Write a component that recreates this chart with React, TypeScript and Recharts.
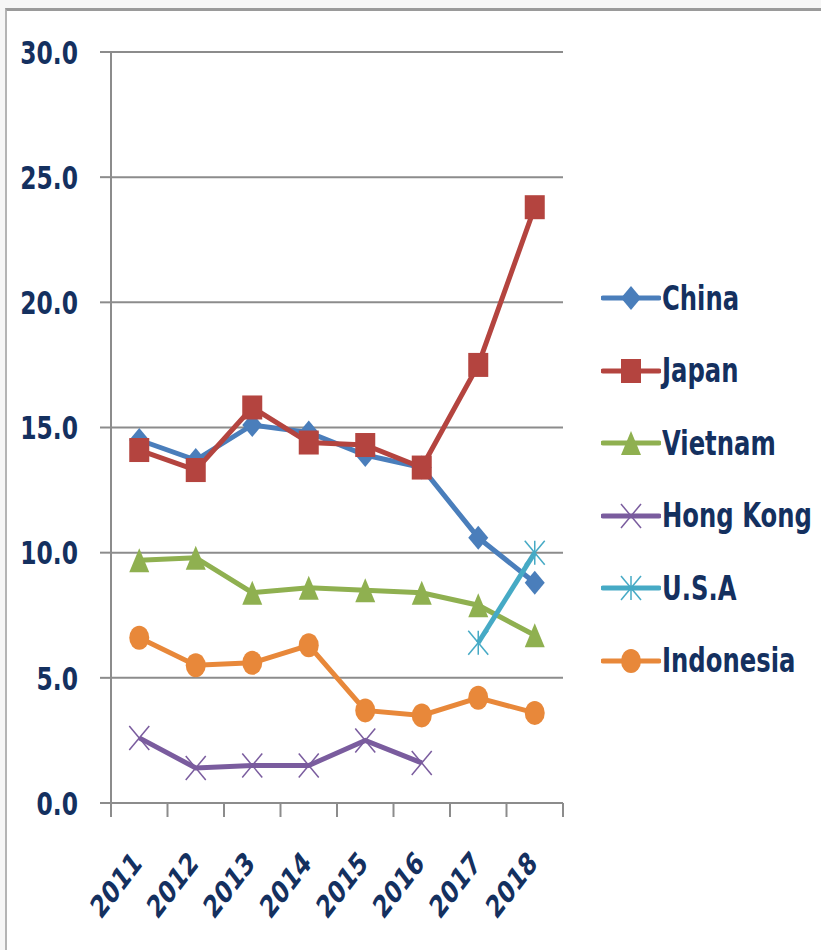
import React from 'react';
import { LineChart, Line, XAxis, YAxis, CartesianGrid, Legend } from 'recharts';

const YEARS = ['2011', '2012', '2013', '2014', '2015', '2016', '2017', '2018'];
const CHINA = [14.5, 13.7, 15.1, 14.8, 13.9, 13.4, 10.6, 8.8];
const JAPAN = [14.1, 13.3, 15.8, 14.4, 14.3, 13.4, 17.5, 23.8];
const VIETNAM = [9.7, 9.8, 8.4, 8.6, 8.5, 8.4, 7.9, 6.7];
const HONG_KONG = [2.6, 1.4, 1.5, 1.5, 2.5, 1.6, null, null];
const USA = [null, null, null, null, null, null, 6.4, 10.0];
const INDONESIA = [6.6, 5.5, 5.6, 6.3, 3.7, 3.5, 4.2, 3.6];
const Y_TICKS = [0, 5, 10, 15, 20, 25, 30];

type Shape = 'diamond' | 'square' | 'triangle' | 'x' | 'star' | 'circle';

const SERIES: { key: string; name: string; values: (number | null)[]; color: string; shape: Shape }[] = [
    { key: 'china', name: 'China', values: CHINA, color: '#4A7EBB', shape: 'diamond' },
    { key: 'japan', name: 'Japan', values: JAPAN, color: '#B4443F', shape: 'square' },
    { key: 'vietnam', name: 'Vietnam', values: VIETNAM, color: '#8FB050', shape: 'triangle' },
    { key: 'hongKong', name: 'Hong Kong', values: HONG_KONG, color: '#7A5C9E', shape: 'x' },
    { key: 'usa', name: 'U.S.A', values: USA, color: '#46AAC5', shape: 'star' },
    { key: 'indonesia', name: 'Indonesia', values: INDONESIA, color: '#E8883A', shape: 'circle' },
];

const data = YEARS.map((year, i) => {
    const row: Record<string, string | number | null> = { year };
    SERIES.forEach((s) => { row[s.key] = s.values[i]; });
    return row;
});

const TEXT_COLOR = '#14305F';
const FONT = '"DejaVu Sans Condensed", "DejaVu Sans", sans-serif';
const HALF_BAND = 28.25;

function Marker({ cx, cy, shape, color }: { cx: number; cy: number; shape: Shape; color: string }) {
    const w = 10;
    const h = 12;
    switch (shape) {
        case 'diamond':
            return <polygon points={`${cx},${cy - h} ${cx + w},${cy} ${cx},${cy + h} ${cx - w},${cy}`} fill={color} />;
        case 'square':
            return <rect x={cx - w} y={cy - h} width={w * 2} height={h * 2} fill={color} />;
        case 'triangle':
            return <polygon points={`${cx},${cy - h} ${cx + w},${cy + h} ${cx - w},${cy + h}`} fill={color} />;
        case 'circle':
            return <ellipse cx={cx} cy={cy} rx={w} ry={h} fill={color} />;
        case 'x':
            return (
                <g stroke={color} strokeWidth={1.5}>
                    <line x1={cx - w} y1={cy - h} x2={cx + w} y2={cy + h} />
                    <line x1={cx - w} y1={cy + h} x2={cx + w} y2={cy - h} />
                </g>
            );
        case 'star':
            return (
                <g stroke={color} strokeWidth={1.5}>
                    <line x1={cx - w} y1={cy - h} x2={cx + w} y2={cy + h} />
                    <line x1={cx - w} y1={cy + h} x2={cx + w} y2={cy - h} />
                    <line x1={cx} y1={cy - h} x2={cx} y2={cy + h} />
                </g>
            );
    }
    return null;
}

function YTick(props: any) {
    const { x, y, payload } = props;
    return (
        <text
            transform={`translate(${x},${y}) scale(1,1.25)`}
            textAnchor="end"
            dy="0.36em"
            fill={TEXT_COLOR}
            fontFamily={FONT}
            fontWeight="bold"
            fontSize={26}
        >
            {Number(payload.value).toFixed(1)}
        </text>
    );
}

function XTick(props: any) {
    const { x, y, payload, index } = props;
    const last = index === YEARS.length - 1;
    return (
        <g>
            <line x1={x - HALF_BAND} y1={y} x2={x - HALF_BAND} y2={y + 14} stroke="#8c8c8c" strokeWidth={2} />
            {last && <line x1={x + HALF_BAND} y1={y} x2={x + HALF_BAND} y2={y + 14} stroke="#8c8c8c" strokeWidth={2} />}
            <text
                transform={`translate(${x + 4},${y + 62}) scale(1,1.3) rotate(-45)`}
                textAnchor="end"
                fill={TEXT_COLOR}
                fontFamily={FONT}
                fontWeight="bold"
                fontSize={24}
            >
                {payload.value}
            </text>
        </g>
    );
}

function LegendBox() {
    return (
        <div style={{ fontFamily: FONT }}>
            {SERIES.map((s) => (
                <div key={s.key} style={{ display: 'flex', alignItems: 'center', height: 72.5 }}>
                    <svg width={60} height={30} style={{ display: 'block' }}>
                        <line x1={2} y1={15} x2={58} y2={15} stroke={s.color} strokeWidth={5} strokeLinecap="round" />
                        <Marker cx={30} cy={15} shape={s.shape} color={s.color} />
                    </svg>
                    <span
                        style={{
                            display: 'inline-block',
                            transform: 'scaleY(1.22)',
                            color: TEXT_COLOR,
                            fontWeight: 'bold',
                            fontSize: 27,
                            marginLeft: 1,
                            whiteSpace: 'nowrap',
                        }}
                    >
                        {s.name}
                    </span>
                </div>
            ))}
        </div>
    );
}

export default function App() {
    return (
        <div style={{ position: 'absolute', left: 0, top: 0, width: 821, height: 950, background: '#f6f6f6', overflow: 'hidden' }}>
            <div
                style={{
                    position: 'absolute',
                    left: 5,
                    top: 8,
                    width: 830,
                    height: 960,
                    background: '#fff',
                    borderTop: '3px solid #9a9a9a',
                    borderLeft: '2px solid #b4b4b4',
                }}
            />
            <div style={{ position: 'absolute', left: 0, top: 0 }}>
                <LineChart width={821} height={950} data={data} margin={{ top: 52, right: 258, bottom: 47, left: 0 }}>
                    <CartesianGrid horizontal vertical={false} stroke="#8c8c8c" strokeWidth={2} />
                    <XAxis
                        dataKey="year"
                        padding={{ left: HALF_BAND, right: HALF_BAND }}
                        height={100}
                        tickLine={false}
                        tickSize={0}
                        tickMargin={0}
                        axisLine={{ stroke: '#8c8c8c', strokeWidth: 2 }}
                        tick={<XTick />}
                        interval={0}
                    />
                    <YAxis
                        width={111}
                        domain={[0, 30]}
                        ticks={Y_TICKS}
                        tickSize={11}
                        tickMargin={22}
                        tickLine={{ stroke: '#8c8c8c', strokeWidth: 2 }}
                        axisLine={{ stroke: '#8c8c8c', strokeWidth: 2 }}
                        tick={<YTick />}
                        interval={0}
                    />
                    <Legend
                        layout="vertical"
                        align="center"
                        verticalAlign="middle"
                        wrapperStyle={{ left: 601, top: 262, width: 220, height: 440 }}
                        content={() => <LegendBox />}
                    />
                    {SERIES.map((s) => (
                        <Line
                            key={s.key}
                            dataKey={s.key}
                            name={s.name}
                            stroke={s.color}
                            strokeWidth={5}
                            isAnimationActive={false}
                            connectNulls={false}
                            activeDot={false}
                            dot={(p: any) =>
                                p.cy == null || p.value == null ? (
                                    <g key={`${s.key}-${p.index}`} />
                                ) : (
                                    <g key={`${s.key}-${p.index}`}>
                                        <Marker cx={p.cx} cy={p.cy} shape={s.shape} color={s.color} />
                                    </g>
                                )
                            }
                        />
                    ))}
                </LineChart>
            </div>
        </div>
    );
}
